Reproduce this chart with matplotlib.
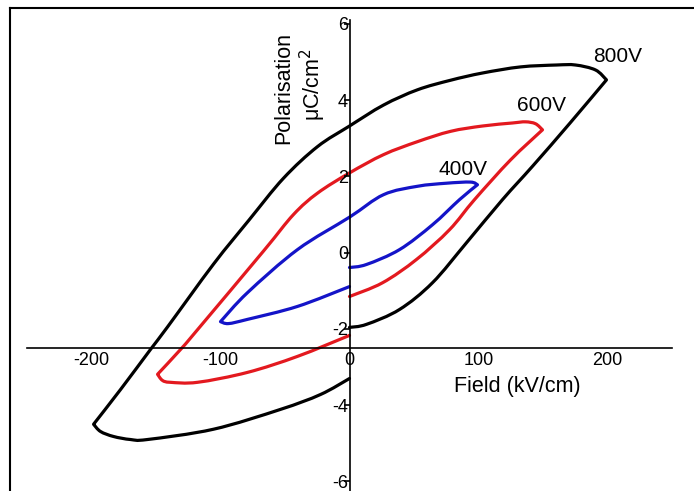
import matplotlib
matplotlib.use("Agg")
import numpy as np
import matplotlib.pyplot as plt
from matplotlib.lines import Line2D
from matplotlib.path import Path
from matplotlib.patches import PathPatch

plt.rcParams['font.family'] = ['Liberation Sans', 'DejaVu Sans']

# Hysteresis loops: field (kV/cm) vs polarisation (uC/cm^2)
field_800 = [0, 13.2, 38.8, 64.3, 90.7, 118.6, 142, 171, 199.2,
             190.7, 175.2, 160.5, 132.6, 103.1, 78.3, 52.7, 26.4, 0, -24.8, -51.2, -78,
             -105.4, -141.1, -154.3, -177.5, -198.4,
             -193, -183, -169.8, -156.6, -105.4, -53.5, -22.5, 0]
pol_800 = [-1.96, -1.88, -1.49, -0.79, 0.26, 1.39, 2.27, 3.40, 4.53,
           4.79, 4.92, 4.92, 4.87, 4.71, 4.52, 4.27, 3.87, 3.32, 2.78, 1.95, 0.85,
           -0.30, -1.95, -2.54, -3.59, -4.50,
           -4.69, -4.82, -4.90, -4.90, -4.63, -4.11, -3.72, -3.30]
tips_800 = [8, 25]

field_600 = [0, 25.6, 51.9, 77.5, 96.9, 124.8, 149.6,
             144.2, 136.4, 126.4, 103, 78.3, 52.7, 26.4, 0, -24.8, -43.4, -66.7,
             -117.8, -131, -148.8,
             -145, -138.8, -117.8, -79.1, -40.3, 0]
pol_600 = [-1.15, -0.79, -0.18, 0.60, 1.39, 2.43, 3.22,
           3.38, 3.43, 3.40, 3.32, 3.18, 2.91, 2.57, 2.09, 1.56, 1.00, 0.04,
           -2.02, -2.54, -3.19,
           -3.35, -3.40, -3.40, -3.14, -2.72, -2.17]
tips_600 = [6, 20]

field_400 = [0, 13.2, 38.8, 64.3, 85.3, 99.2,
             93.8, 75, 52.7, 26.4, 0, -40.3, -79.1, -100,
             -93.8, -79.1, -40.3, 0]
pol_400 = [-0.39, -0.31, 0.08, 0.73, 1.39, 1.78,
           1.85, 1.82, 1.74, 1.52, 0.93, 0.08, -1.05, -1.81,
           -1.86, -1.75, -1.41, -0.89]
tips_400 = [5, 13]

x_ticks = [-200, -100, 0, 100, 200]
y_ticks = [-6, -4, -2, 0, 2, 4, 6]


def smooth_path(xs, ys, corners):
    """Cubic Bezier path through the points, with sharp corners at the loop tips."""
    pts = np.column_stack([xs, ys]).astype(float)
    bounds = [0] + list(corners) + [len(pts) - 1]
    verts = [pts[0]]
    codes = [Path.MOVETO]
    for a, b in zip(bounds[:-1], bounds[1:]):
        seg = pts[a:b + 1]
        n = len(seg)
        for i in range(n - 1):
            p_prev = seg[i - 1] if i > 0 else seg[i]
            p0, p1 = seg[i], seg[i + 1]
            p_next = seg[i + 2] if i + 2 < n else seg[i + 1]
            c1 = p0 + (p1 - p_prev) / 6.0
            c2 = p1 - (p_next - p0) / 6.0
            verts += [c1, c2, p1]
            codes += [Path.CURVE4] * 3
    return Path(verts, codes)


fig = plt.figure(figsize=(6.94, 4.91), dpi=100)
ax = fig.add_axes([27 / 694, 0.0, 645 / 694, 471 / 491])
ax.set_xlim(-250, 250)
ax.set_ylim(-6.25, 6.1)

lw = 2.3
for xs, ys, tips, col in [(field_800, pol_800, tips_800, 'black'),
                          (field_600, pol_600, tips_600, '#e3191f'),
                          (field_400, pol_400, tips_400, '#1414c8')]:
    patch = PathPatch(smooth_path(xs, ys, tips), facecolor='none', edgecolor=col,
                      lw=lw, capstyle='round', joinstyle='round', transform=ax.transData)
    ax.add_patch(patch)

ax.text(207.8, 5.13, '800V', fontsize=15, ha='center', va='center')
ax.text(148.8, 3.87, '600V', fontsize=15, ha='center', va='center')
ax.text(87.6, 2.17, '400V', fontsize=15, ha='center', va='center')

# Cross-shaped axes
ax.spines['left'].set_position(('data', 0))
ax.spines['bottom'].set_position(('data', -2.5))
ax.spines['top'].set_visible(False)
ax.spines['right'].set_visible(False)
for s in ('left', 'bottom'):
    ax.spines[s].set_linewidth(1.2)

ax.set_xticks(x_ticks)
ax.set_yticks(y_ticks)
ax.set_xticklabels([str(v) for v in x_ticks])
ax.set_yticklabels([str(v) for v in y_ticks])
ax.tick_params(axis='x', direction='out', length=0, pad=3, labelsize=13)
ax.tick_params(axis='y', direction='out', length=4, width=1.2, pad=-3, labelsize=13)

ax.text(130, -3.5, 'Field (kV/cm)', fontsize=15.5, ha='center', va='center')
ax.text(-51, 4.32, 'Polarisation', fontsize=15.5, rotation=90, ha='center', va='center')
ax.text(-28.7, 4.4, r'μC/cm$^2$', fontsize=15.5, rotation=90, ha='center', va='center')

# Outer frame
fig.add_artist(Line2D([10 / 694, 1.0], [1 - 8 / 491, 1 - 8 / 491], color='black', lw=1.5,
                      transform=fig.transFigure))
fig.add_artist(Line2D([10 / 694, 10 / 694], [0.0, 1 - 8 / 491], color='black', lw=1.5,
                      transform=fig.transFigure))

fig.savefig('out.png', dpi=100)
